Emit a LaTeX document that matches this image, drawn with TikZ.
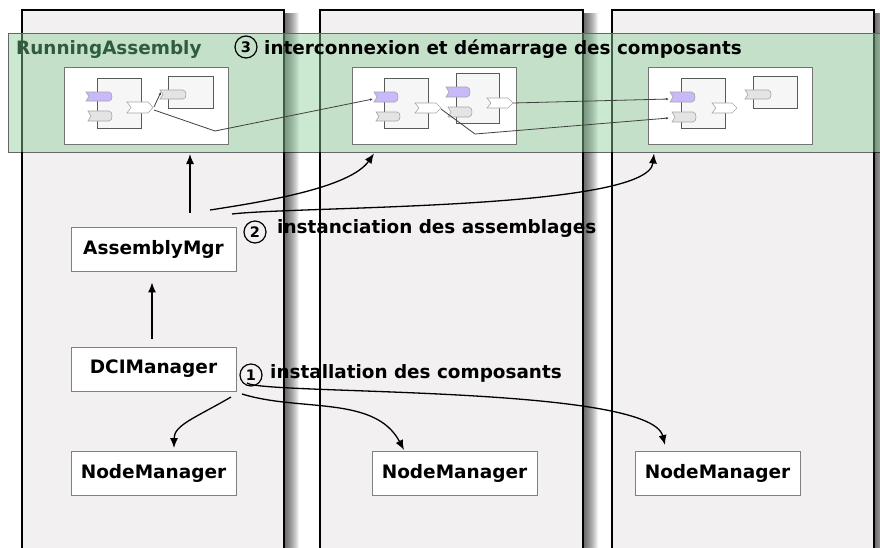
\documentclass[tikz,border=0pt]{standalone}
\usepackage{fontspec}
\setmainfont{DejaVu Sans}
\usetikzlibrary{arrows.meta}
\definecolor{colfill}{RGB}{242,240,240}
\definecolor{bandgreen}{RGB}{140,205,155}
\definecolor{bandtext}{RGB}{48,92,62}
\definecolor{purpleport}{RGB}{201,185,250}
\definecolor{grayport}{RGB}{228,228,228}
\definecolor{compfill}{RGB}{246,246,246}
\newcommand\myinport[5]{\draw[port, fill=#5] (#1,#2) -- ({#3-4},#2) .. controls (#3,#2) and (#3,#4) .. ({#3-4},#4) -- (#1,#4) -- ({#1+3},{(#2+#4)/2}) -- cycle;}
\newcommand\myoutport[4]{\draw[port, fill=white] (#1,#2) -- ({#3-5},#2) -- (#3,{(#2+#4)/2}) -- ({#3-5},#4) -- (#1,#4) -- ({#1+4},{(#2+#4)/2}) -- cycle;}
\newcommand\colDecor{%
  \foreach \xb in {284,583,874} {\foreach \i in {1,...,15} {\fill[black, opacity=0.055] (\xb,13) rectangle ({\xb+\i},560);}}
  \foreach \xa/\xb in {22/284,320/583,612/874} {\draw[black, line width=1.4pt] (\xa,560) -- (\xa,10) -- (\xb,10) -- (\xb,560);}
}
\begin{document}
\begin{tikzpicture}[x=1pt,y=-1pt,
  box/.style={draw=black!50, line width=0.9pt, fill=white, minimum width=165pt, minimum height=44pt, font=\fontsize{18.5}{22}\selectfont\bfseries, inner sep=0pt},
  wbox/.style={draw=black!55, line width=0.9pt, fill=white, inner sep=0pt, minimum width=164pt, minimum height=77pt},
  conn/.style={-{Latex[length=10pt,width=8pt]}, line width=1.3pt},
  wire/.style={draw=black!75, line width=0.8pt, -{Latex[length=3pt,width=2.5pt]}},
  comp/.style={draw=black!65, line width=0.8pt, fill=compfill},
  port/.style={draw=black!35, line width=0.6pt},
  num/.style={circle, draw=black, line width=1.2pt, minimum size=22pt, inner sep=0pt, font=\fontsize{14.5}{14.5}\selectfont\bfseries},
  lbl/.style={font=\fontsize{18.4}{22}\selectfont\bfseries, anchor=base west, inner sep=0pt}]
\useasboundingbox (0,0) rectangle (880,547);
\fill[white] (0,0) rectangle (880,547);
% columns
\foreach \xa/\xb in {22/284,320/583,612/874} {\fill[colfill] (\xa,10) rectangle (\xb,560);}
\begin{scope}
  \clip (0,0) rectangle (880,152);
  \colDecor
\end{scope}
% band
\fill[bandgreen, opacity=0.45] (8,33) rectangle (885,152);
\draw[black!60, line width=1pt] (885,33) -- (8,33) -- (8,152) -- (885,152);
% white boxes
\node[wbox] (wb1) at (146,105.5) {};
\node[wbox] (wb2) at (434,105.5) {};
\node[wbox] (wb3) at (730.5,105.5) {};
% box 1 content
\draw[comp] (97,78) rectangle (141,128);
\draw[comp] (168,76) rectangle (213,108);
\myinport{86}{92}{113}{101}{purpleport}
\myinport{88}{111}{113}{121}{grayport}
\myoutport{127}{102}{153}{113}
\myinport{160}{90}{187}{99}{grayport}
% box 2 content
\draw[comp] (384,78) rectangle (428,128);
\draw[comp] (456,73) rectangle (499,123);
\myinport{374}{92}{399}{102}{purpleport}
\myinport{376}{112}{401}{121}{grayport}
\myoutport{415}{103}{441}{113}
\myinport{446}{87}{471}{97}{purpleport}
\myinport{448}{107}{473}{117}{grayport}
\myoutport{487}{98}{513}{108}
% box 3 content
\draw[comp] (681,78) rectangle (725,128);
\draw[comp] (753,76) rectangle (797,108);
\myinport{670}{92}{696}{102}{purpleport}
\myinport{672}{112}{697}{122}{grayport}
\myoutport{712}{103}{737}{113}
\myinport{745}{90}{772}{99}{grayport}
% wire endpoints
\coordinate (o1a) at (154,107);
\coordinate (o1b) at (154,110);
\coordinate (b1in) at (161,92);
\coordinate (k1) at (215,131);
\coordinate (p2in) at (373,99);
\coordinate (o2a) at (441,109);
\coordinate (k2) at (475,134);
\coordinate (g3in) at (669,118);
\coordinate (o2c) at (513,103);
\coordinate (p3in) at (669,99);
\draw[wire] (o1a) -- (b1in);
\draw[wire] (o1b) -- (k1) -- (p2in);
\draw[wire] (o2a) -- (k2) -- (g3in);
\draw[wire] (o2c) -- (p3in);
% band labels
\node[lbl, text=bandtext] (ra) at (16,54) {RunningAssembly};
\node[num] (c3) at (246,47) {3};
\node[lbl] (t3) at (264,54) {interconnexion et démarrage des composants};
% lower nodes
\node[box] (asm) at (153.5,249) {AssemblyMgr};
\node[box] (dci) at (153.5,369) {DCIManager};
\node[box] (nm1) at (153.5,473.5) {NodeManager};
\node[box] (nm2) at (454.5,473.5) {NodeManager};
\node[box] (nm3) at (717.5,473.5) {NodeManager};
\node[num] (c2) at (255,232) {2};
\node[lbl] (t2) at (277,233) {instanciation des assemblages};
\node[num] (c1) at (251,375) {1};
\node[lbl] (t1) at (270,378) {installation des composants};
\begin{scope}
  \clip (0,152) rectangle (880,560);
  \colDecor
\end{scope}
% connectors
\coordinate (bandS1) at (190,154);
\coordinate (a2) at (210,210);
\coordinate (a3) at (232,214);
\coordinate (d1) at (231,397);
\coordinate (d2) at (242,394);
\coordinate (d3) at (247,383);
\draw[conn, shorten <=8pt, shorten >=11pt] ([xshift=-1.5pt]dci.north) -- ([xshift=-1.5pt]asm.south);
\draw[conn, shorten <=14pt] ([xshift=36.5pt]asm.north) -- (bandS1);
\draw[conn] (a2) .. controls (262,202) and (350,188) .. ([xshift=-60pt,yshift=-9pt]wb2.south);
\draw[conn] (a3) .. controls (300,206) and (648,210) .. ([xshift=-76.5pt,yshift=-9pt]wb3.south);
\draw[conn] (d1) .. controls (195,418) and (174,425) .. ([xshift=20.5pt,yshift=3pt]nm1.north);
\draw[conn] (d2) .. controls (300,412) and (375,395) .. ([xshift=-50.5pt,yshift=1pt]nm2.north);
\draw[conn] (d3) .. controls (262,395) and (650,385) .. ([xshift=-52.5pt,yshift=6pt]nm3.north);
\end{tikzpicture}
\end{document}
